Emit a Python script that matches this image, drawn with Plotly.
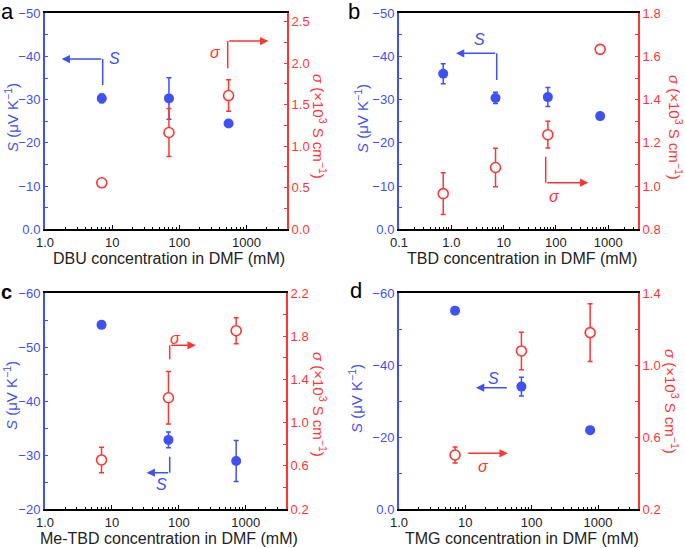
import math
import plotly.graph_objects as go

W, H = 685, 548
BLUE = "#3f50f5"
RED = "#ff3535"
FONT = "Liberation Sans, Arial, sans-serif"

# ---------------- data ----------------
# panel a : DBU
a_conc = [7, 70, 540]
a_S = [-30.3, -30.3, -24.5]
a_S_err = [1.0, 4.8, 0.0]
a_sig = [0.56, 1.165, 1.61]
a_sig_err = [0.0, 0.29, 0.19]

# panel b : TBD
b_conc = [0.7, 7, 70, 700]
b_S = [-36.0, -30.4, -30.6, -26.2]
b_S_err = [2.3, 1.3, 2.2, 0.0]
b_sig = [0.965, 1.086, 1.238, 1.633]
b_sig_err = [0.097, 0.089, 0.062, 0.0]

# panel c : Me-TBD
c_conc = [7, 70, 720]
c_S = [-54.1, -32.8, -28.9]
c_S_err = [0.0, 1.45, 3.8]
c_sig = [0.654, 1.23, 1.851]
c_sig_err = [0.118, 0.242, 0.12]

# panel d : TMG
d_conc = [7, 70, 760]
d_S = [-55.1, -34.0, -21.9]
d_S_err = [0.0, 2.6, 0.0]
d_sig = [0.50, 1.078, 1.18]
d_sig_err = [0.045, 0.104, 0.16]

# axis ticks
x_ticks_1 = [1, 10, 100, 1000]
x_text_1 = ["1.0", "10", "100", "1000"]
x_ticks_b = [0.1, 1, 10, 100, 1000]
x_text_b = ["0.1", "1.0", "10", "100", "1000"]

S_ticks_ab = [0, -10, -20, -30, -40, -50]
S_text_ab = ["0.0", "\u221210", "\u221220", "\u221230", "\u221240", "\u221250"]
S_minor_ab = [-5, -15, -25, -35, -45]
S_ticks_c = [-20, -30, -40, -50, -60]
S_text_c = ["\u221220", "\u221230", "\u221240", "\u221250", "\u221260"]
S_minor_c = [-25, -35, -45, -55]
S_ticks_d = [0, -20, -40, -60]
S_text_d = ["0.0", "\u221220", "\u221240", "\u221260"]
S_minor_d = [-10, -30, -50]

sig_ticks_a = [0.0, 0.5, 1.0, 1.5, 2.0, 2.5]
sig_text_a = ["0.0", "0.5", "1.0", "1.5", "2.0", "2.5"]
sig_minor_a = [0.25, 0.75, 1.25, 1.75, 2.25]
sig_ticks_b = [0.8, 1.0, 1.2, 1.4, 1.6, 1.8]
sig_text_b = ["0.8", "1.0", "1.2", "1.4", "1.6", "1.8"]
sig_minor_b = [0.9, 1.1, 1.3, 1.5, 1.7]
sig_ticks_c = [0.2, 0.6, 1.0, 1.4, 1.8, 2.2]
sig_text_c = ["0.2", "0.6", "1.0", "1.4", "1.8", "2.2"]
sig_minor_c = [0.4, 0.8, 1.2, 1.6, 2.0]
sig_ticks_d = [0.2, 0.6, 1.0, 1.4]
sig_text_d = ["0.2", "0.6", "1.0", "1.4"]
sig_minor_d = [0.4, 0.8, 1.2]

x_titles = ["DBU concentration in DMF (mM)", "TBD concentration in DMF (mM)",
            "Me-TBD concentration in DMF (mM)", "TMG concentration in DMF (mM)"]
S_title = "<i>S</i> (\u03bcV K<sup>\u22121</sup>)"
sig_title = "<i>\u03c3</i> (\u00d710<sup>3</sup> S cm<sup>\u22121</sup>)"


def log_minor(lo, hi):
    vals = []
    for e in range(int(math.floor(math.log10(lo))), int(math.ceil(math.log10(hi))) + 1):
        for m in range(2, 10):
            v = m * 10 ** e
            if lo < v < hi:
                vals.append(v)
    return vals


def px(x, y):
    return x / W, 1 - y / H


panels = [
    dict(conc=a_conc, S=a_S, Se=a_S_err, sig=a_sig, sige=a_sig_err,
         box=(45, 13.3, 287, 229.3), xr=(1, 4000), xt=x_ticks_1, xtt=x_text_1,
         Sr=(0, -50), St=S_ticks_ab, Stt=S_text_ab, Sm=S_minor_ab,
         gr=(0, 2.6), gt=sig_ticks_a, gtt=sig_text_a, gm=sig_minor_a),
    dict(conc=b_conc, S=b_S, Se=b_S_err, sig=b_sig, sige=b_sig_err,
         box=(399, 13.3, 638, 229.3), xr=(0.1, 3700), xt=x_ticks_b, xtt=x_text_b,
         Sr=(0, -50), St=S_ticks_ab, Stt=S_text_ab, Sm=S_minor_ab,
         gr=(0.8, 1.8), gt=sig_ticks_b, gtt=sig_text_b, gm=sig_minor_b),
    dict(conc=c_conc, S=c_S, Se=c_S_err, sig=c_sig, sige=c_sig_err,
         box=(45, 293, 286, 509), xr=(1, 4000), xt=x_ticks_1, xtt=x_text_1,
         Sr=(-20, -60), St=S_ticks_c, Stt=S_text_c, Sm=S_minor_c,
         gr=(0.2, 2.2), gt=sig_ticks_c, gtt=sig_text_c, gm=sig_minor_c),
    dict(conc=d_conc, S=d_S, Se=d_S_err, sig=d_sig, sige=d_sig_err,
         box=(399, 293, 638, 509), xr=(1, 4000), xt=x_ticks_1, xtt=x_text_1,
         Sr=(0, -60), St=S_ticks_d, Stt=S_text_d, Sm=S_minor_d,
         gr=(0.2, 1.4), gt=sig_ticks_d, gtt=sig_text_d, gm=sig_minor_d),
]

fig = go.Figure()
layout = dict(width=W, height=H, autosize=False,
              margin=dict(l=0, r=0, t=0, b=0, pad=0, autoexpand=False),
              paper_bgcolor="white", plot_bgcolor="white", showlegend=False,
              font=dict(family=FONT, size=13, color="black"))
annotations = []
shapes = []


def text_at(txt, x, y, size, color, angle=0):
    X, Y = px(x, y)
    annotations.append(dict(x=X, y=Y, xref="paper", yref="paper", text=txt,
                            showarrow=False, xanchor="center", yanchor="middle",
                            textangle=angle, font=dict(size=size, color=color)))


for i, p in enumerate(panels):
    xi = i + 1
    yl = 2 * i + 1
    yr = 2 * i + 2
    xname = "xaxis" if xi == 1 else f"xaxis{xi}"
    x0, y0, x1, y1 = p["box"]
    xdom = [x0 / W, x1 / W]
    ydom = [1 - y1 / H, 1 - y0 / H]
    xref = "x" if xi == 1 else f"x{xi}"
    ylref = "y" if yl == 1 else f"y{yl}"
    yrref = f"y{yr}"

    layout[xname] = dict(
        type="log", domain=xdom, anchor=ylref, automargin=False,
        range=[math.log10(p["xr"][0]), math.log10(p["xr"][1])],
        tickvals=p["xt"], ticktext=p["xtt"], ticks="inside", ticklen=4,
        tickwidth=1.2, tickcolor="black", showline=True, linecolor="black",
        linewidth=2, mirror=True, showgrid=False, zeroline=False,
        tickfont=dict(size=13, color="#222"),
        minor=dict(tickvals=log_minor(*p["xr"]), ticks="inside", ticklen=2.5,
                   tickwidth=1, tickcolor="black", showgrid=False),
    )
    layout[f"yaxis{yl}" if yl > 1 else "yaxis"] = dict(
        domain=ydom, anchor=xref, range=list(p["Sr"]), automargin=False,
        tickvals=p["St"], ticktext=p["Stt"], ticks="inside", ticklen=3,
        tickwidth=1.2, tickcolor=BLUE, showline=True, linecolor=BLUE,
        linewidth=2, showgrid=False, zeroline=False,
        tickfont=dict(size=13, color=BLUE),
        minor=dict(tickvals=p["Sm"], ticks="inside", ticklen=3, tickwidth=1.2,
                   tickcolor=BLUE, showgrid=False),
    )
    layout[f"yaxis{yr}"] = dict(
        domain=ydom, anchor=xref, overlaying=ylref, side="right", automargin=False,
        range=list(p["gr"]), tickvals=p["gt"], ticktext=p["gtt"],
        ticks="inside", ticklen=3, tickwidth=1.2, tickcolor=RED,
        showline=True, linecolor=RED, linewidth=2, showgrid=False,
        zeroline=False, tickfont=dict(size=13, color=RED),
        minor=dict(tickvals=p["gm"], ticks="inside", ticklen=3, tickwidth=1.2,
                   tickcolor=RED, showgrid=False),
    )

    fig.add_trace(go.Scatter(
        x=p["conc"], y=p["S"], mode="markers", xaxis=xref, yaxis=ylref,
        marker=dict(size=10, color=BLUE, line=dict(width=0)),
        error_y=dict(type="data", array=p["Se"], color=BLUE, thickness=1.5, width=2.5),
        cliponaxis=False))
    fig.add_trace(go.Scatter(
        x=p["conc"], y=p["sig"], mode="markers", xaxis=xref, yaxis=yrref,
        marker=dict(size=10, color="white", line=dict(width=1.6, color=RED)),
        error_y=dict(type="data", array=p["sige"], color=RED, thickness=1.5, width=2.5),
        cliponaxis=False))

    # x-axis title
    text_at(x_titles[i], (x0 + x1) / 2 + 3, y1 + 29, 16, "#222")

left_title_pos = [(11, 118), (362, 119), (10, 396), (355, 399)]
right_title_pos = [(320, 126), (675, 127), (320, 404), (672, 401)]
for (lx, ly), (rx, ry) in zip(left_title_pos, right_title_pos):
    text_at(S_title, lx, ly, 15, BLUE, -90)
    text_at(sig_title, rx, ry, 15, RED, 90)

# panel letters
text_at("a", 8, 11, 22, "black")
text_at("b", 354, 11, 22, "black")
text_at("<b>c</b>", 6, 292, 20, "black")
text_at("d", 356, 290, 22, "black")


# guide arrows (pixel positions -> paper)
def elbow(vx, vy0, vy1, tipx, color):
    if vy0 is not None:
        X0, Y0 = px(vx, vy0)
        X1, Y1 = px(vx, vy1)
        shapes.append(dict(type="line", xref="paper", yref="paper", x0=X0, y0=Y0,
                           x1=X1, y1=Y1, line=dict(color=color, width=1.5)))
    TX, TY = px(tipx, vy1)
    annotations.append(dict(x=TX, y=TY, xref="paper", yref="paper", text="",
                            showarrow=True, axref="pixel", ayref="pixel",
                            ax=vx - tipx, ay=0, arrowhead=2, arrowsize=1.1,
                            arrowwidth=1.5, arrowcolor=color, standoff=0, startstandoff=0))


# a
elbow(102.7, 85, 59, 61.7, BLUE); text_at("<i>S</i>", 114, 58, 16, BLUE)
elbow(227.7, 68.3, 41, 268.3, RED); text_at("<i>\u03c3</i>", 215, 52, 16, RED)
# b
elbow(496.7, 80, 53.3, 456, BLUE); text_at("<i>S</i>", 479, 39, 16, BLUE)
elbow(545.7, 156.7, 182.7, 588.3, RED); text_at("<i>\u03c3</i>", 554, 196, 16, RED)
# c
elbow(169.7, 359.3, 345.3, 195.7, RED); text_at("<i>\u03c3</i>", 175, 338, 16, RED)
elbow(169.7, 456.7, 472.7, 146.7, BLUE); text_at("<i>S</i>", 161.7, 484, 16, BLUE)
# d
elbow(508.3, None, 387.7, 476, BLUE); text_at("<i>S</i>", 493.3, 378, 16, BLUE)
elbow(466.7, None, 453.3, 507.7, RED); text_at("<i>\u03c3</i>", 483.3, 466, 16, RED)

layout["annotations"] = annotations
layout["shapes"] = shapes
fig.update_layout(**layout)
fig.write_html("out.html", config={"displayModeBar": False},
               post_script="document.body.style.margin='0px';")
